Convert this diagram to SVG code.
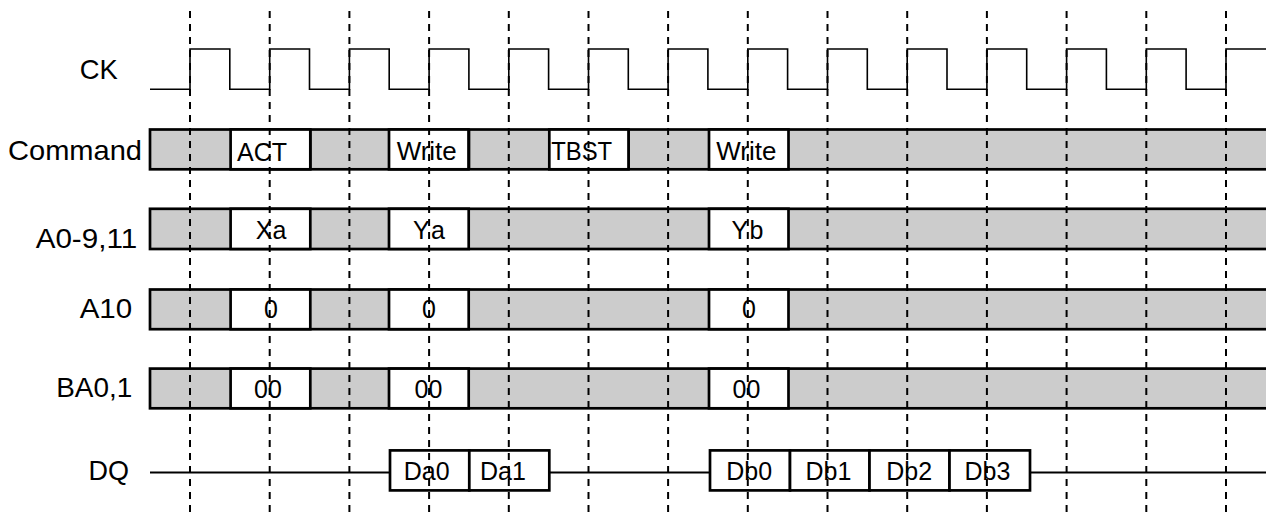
<svg xmlns="http://www.w3.org/2000/svg" width="1266" height="516" viewBox="0 0 1266 516">
<style>
  text { font-family: "Liberation Sans", Arial, sans-serif; fill: #000; }
  .lbl { font-size: 27.5px; text-anchor: middle; }
  .bt { font-size: 25px; text-anchor: middle; }
  .bar { fill: #cccccc; stroke: #000; stroke-width: 2.7; }
  .box { fill: #ffffff; stroke: #000; stroke-width: 2.7; }
  .div { stroke: #000; stroke-width: 2.7; fill: none; }
  .clk { fill: none; stroke: #000; stroke-width: 1.6; }
  .dq { fill: none; stroke: #000; stroke-width: 1.8; }
  .grid line { stroke: #000; stroke-width: 2; stroke-dasharray: 7 6; }
</style>
<rect x="0" y="0" width="1266" height="516" fill="#ffffff"/>

<g id="labels">
  <text class="lbl" x="98.7" y="79" textLength="38" lengthAdjust="spacingAndGlyphs">CK</text>
  <text class="lbl" x="75" y="160" textLength="134" lengthAdjust="spacingAndGlyphs">Command</text>
  <text class="lbl" x="86.4" y="248.3" textLength="101.5" lengthAdjust="spacingAndGlyphs">A0-9,11</text>
  <text class="lbl" x="105.9" y="317.7" textLength="52.5" lengthAdjust="spacingAndGlyphs">A10</text>
  <text class="lbl" x="94.2" y="396.7" textLength="76" lengthAdjust="spacingAndGlyphs">BA0,1</text>
  <text class="lbl" x="108.8" y="480" textLength="40.5" lengthAdjust="spacingAndGlyphs">DQ</text>
</g>

<g id="clock">
  <path class="clk" d="M150,89.3 H190 V49 H229.8 V89.3 H269.7 V49 H309.5 V89.3 H349.4 V49 H389.2 V89.3 H429.1 V49 H468.9 V89.3 H508.8 V49 H548.6 V89.3 H588.5 V49 H628.3 V89.3 H668.1 V49 H707.9 V89.3 H747.8 V49 H787.6 V89.3 H827.5 V49 H867.3 V89.3 H907.2 V49 H947 V89.3 H986.9 V49 H1026.7 V89.3 H1066.6 V49 H1106.4 V89.3 H1146.3 V49 H1186.1 V89.3 H1226 V49 H1270"/>
</g>

<g id="command">
  <rect class="bar" x="150" y="129.5" width="1130" height="39.8"/>
  <line class="div" x1="310.3" y1="129.5" x2="310.3" y2="169.3"/>
  <line class="div" x1="469" y1="129.5" x2="469" y2="169.3"/>
  <line class="div" x1="628.5" y1="129.5" x2="628.5" y2="169.3"/>
  <g id="cmd-act"><rect class="box" x="230.6" y="129.5" width="79.7" height="39.8"/><text class="bt" x="262" y="160.5" textLength="50" lengthAdjust="spacingAndGlyphs">ACT</text></g>
  <g id="cmd-write1"><rect class="box" x="389" y="129.5" width="79.5" height="39.8"/><text class="bt" x="426.7" y="160" textLength="60" lengthAdjust="spacingAndGlyphs">Write</text></g>
  <g id="cmd-tbst"><rect class="box" x="549.3" y="129.5" width="79.2" height="39.8"/><text class="bt" x="581.7" y="160" textLength="61" lengthAdjust="spacingAndGlyphs">TBST</text></g>
  <g id="cmd-write2"><rect class="box" x="709" y="129.5" width="79.5" height="39.8"/><text class="bt" x="746.3" y="160" textLength="60" lengthAdjust="spacingAndGlyphs">Write</text></g>
</g>

<g id="addr">
  <rect class="bar" x="150" y="208.8" width="1130" height="40.2"/>
  <g id="addr-xa"><rect class="box" x="230.6" y="208.8" width="79.7" height="40.2"/><text class="bt" x="271" y="239">Xa</text></g>
  <g id="addr-ya"><rect class="box" x="389" y="208.8" width="79.7" height="40.2"/><text class="bt" x="429" y="239" textLength="32" lengthAdjust="spacing">Ya</text></g>
  <g id="addr-yb"><rect class="box" x="709" y="208.8" width="79.5" height="40.2"/><text class="bt" x="747.5" y="239" textLength="32" lengthAdjust="spacing">Yb</text></g>
</g>

<g id="a10">
  <rect class="bar" x="150" y="289.5" width="1130" height="39.7"/>
  <g id="a10-1"><rect class="box" x="230.6" y="289.5" width="79.7" height="39.7"/><text class="bt" x="271" y="318.3">0</text></g>
  <g id="a10-2"><rect class="box" x="389" y="289.5" width="79.7" height="39.7"/><text class="bt" x="429" y="318.3">0</text></g>
  <g id="a10-3"><rect class="box" x="709" y="289.5" width="79.5" height="39.7"/><text class="bt" x="749" y="318.3">0</text></g>
</g>

<g id="ba">
  <rect class="bar" x="150" y="368.6" width="1130" height="39.7"/>
  <g id="ba-1"><rect class="box" x="230.6" y="368.6" width="79.7" height="39.7"/><text class="bt" x="268" y="398.3">00</text></g>
  <g id="ba-2"><rect class="box" x="389" y="368.6" width="79.7" height="39.7"/><text class="bt" x="428.5" y="398.3">00</text></g>
  <g id="ba-3"><rect class="box" x="709" y="368.6" width="79.5" height="39.7"/><text class="bt" x="746.5" y="398.3">00</text></g>
</g>

<g id="dq">
  <line class="dq" x1="150" y1="472.5" x2="1270" y2="472.5"/>
  <g id="dq-da0"><rect class="box" x="390" y="450.4" width="79.3" height="40"/><text class="bt" x="426.7" y="480">Da0</text></g>
  <g id="dq-da1"><rect class="box" x="469.3" y="450.4" width="80" height="40"/><text class="bt" x="503" y="480">Da1</text></g>
  <g id="dq-db0"><rect class="box" x="710" y="450.4" width="80" height="40"/><text class="bt" x="749.2" y="480">Db0</text></g>
  <g id="dq-db1"><rect class="box" x="790" y="450.4" width="79.5" height="40"/><text class="bt" x="828.5" y="480">Db1</text></g>
  <g id="dq-db2"><rect class="box" x="869.5" y="450.4" width="80" height="40"/><text class="bt" x="909.2" y="480">Db2</text></g>
  <g id="dq-db3"><rect class="box" x="949.5" y="450.4" width="80.5" height="40"/><text class="bt" x="987.5" y="480">Db3</text></g>
</g>

<g id="connectors" class="grid">
  <line x1="190" y1="11" x2="190" y2="516"/>
  <line x1="269.7" y1="11" x2="269.7" y2="516"/>
  <line x1="349.4" y1="11" x2="349.4" y2="516"/>
  <line x1="429.1" y1="11" x2="429.1" y2="516"/>
  <line x1="508.8" y1="11" x2="508.8" y2="516"/>
  <line x1="588.5" y1="11" x2="588.5" y2="516"/>
  <line x1="668.1" y1="11" x2="668.1" y2="516"/>
  <line x1="747.8" y1="11" x2="747.8" y2="516"/>
  <line x1="827.5" y1="11" x2="827.5" y2="516"/>
  <line x1="907.2" y1="11" x2="907.2" y2="516"/>
  <line x1="986.9" y1="11" x2="986.9" y2="516"/>
  <line x1="1066.6" y1="11" x2="1066.6" y2="516"/>
  <line x1="1146.3" y1="11" x2="1146.3" y2="516"/>
  <line x1="1226" y1="11" x2="1226" y2="516"/>
</g>
</svg>
